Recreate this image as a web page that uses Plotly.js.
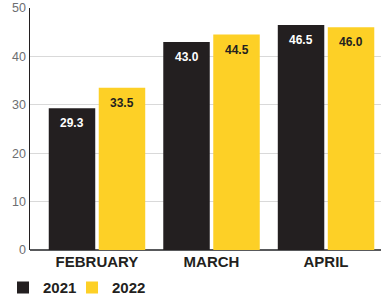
<!DOCTYPE html>
<html><head><meta charset="utf-8">
<script src="https://cdn.plot.ly/plotly-3.0.1.min.js"></script>
<style>html,body{margin:0;padding:0;background:#fff}</style>
</head><body><div id="chart" style="width:381px;height:298px"></div>
<script>
const categories = ["FEBRUARY", "MARCH", "APRIL"];
const values2021 = [29.3, 43.0, 46.5];
const values2022 = [33.5, 44.5, 46.0];
const seriesNames = ["2021", "2022"];

const font = "Liberation Sans, Arial, sans-serif";
const dark = "#231f20";
const yellow = "#fdd026";
const bargap = 0.127;

const traces = [
  {type: "bar", name: seriesNames[0], x: categories, y: values2021, marker: {color: dark}, hoverinfo: "none", legend: "legend"},
  {type: "bar", name: seriesNames[1], x: categories, y: values2022, marker: {color: yellow}, hoverinfo: "none", legend: "legend2"}
];

const off = (1 - bargap) / 4;
const annotations = [];
[values2021, values2022].forEach((vals, s) => {
  vals.forEach((v, i) => {
    annotations.push({
      x: i + (s === 0 ? -off : off), y: v, xref: "x", yref: "y",
      text: v.toFixed(1), showarrow: false, yanchor: "middle", xanchor: "center", yshift: -15,
      font: {family: font, size: 12, color: s === 0 ? "#ffffff" : dark, weight: "bold"}
    });
  });
});

const legendBase = {orientation: "h", xanchor: "left", yref: "container", y: 0.034, yanchor: "middle",
                    font: {family: font, size: 15, color: dark, weight: "bold"}, bgcolor: "rgba(0,0,0,0)"};

const layout = {
  width: 381, height: 298,
  margin: {l: 30, r: 0, t: 8, b: 48},
  paper_bgcolor: "#fff", plot_bgcolor: "#fff",
  font: {family: font, color: "#666"},
  bargap: bargap, bargroupgap: 0.07,
  xaxis: {range: [-0.585, 2.48], showgrid: false, ticks: "", showline: false,
          tickfont: {family: font, size: 15, color: dark, weight: "bold"}, automargin: false,
          ticklabelstandoff: 1},
  yaxis: {range: [0, 50], dtick: 10, showgrid: true, gridcolor: "#d9d9d9", gridwidth: 1,
          showline: true, linecolor: dark, linewidth: 1.5, ticks: "",
          zeroline: true, zerolinecolor: "#58595b", zerolinewidth: 1.5,
          tickfont: {family: font, size: 12.5, color: "#6d6e71"}, automargin: false},
  annotations: annotations,
  showlegend: true,
  legend: Object.assign({}, legendBase, {x: -0.0769}),
  legend2: Object.assign({}, legendBase, {x: 0.1197})
};
Plotly.newPlot("chart", traces, layout, {staticPlot: true, displayModeBar: false});
</script></body></html>
